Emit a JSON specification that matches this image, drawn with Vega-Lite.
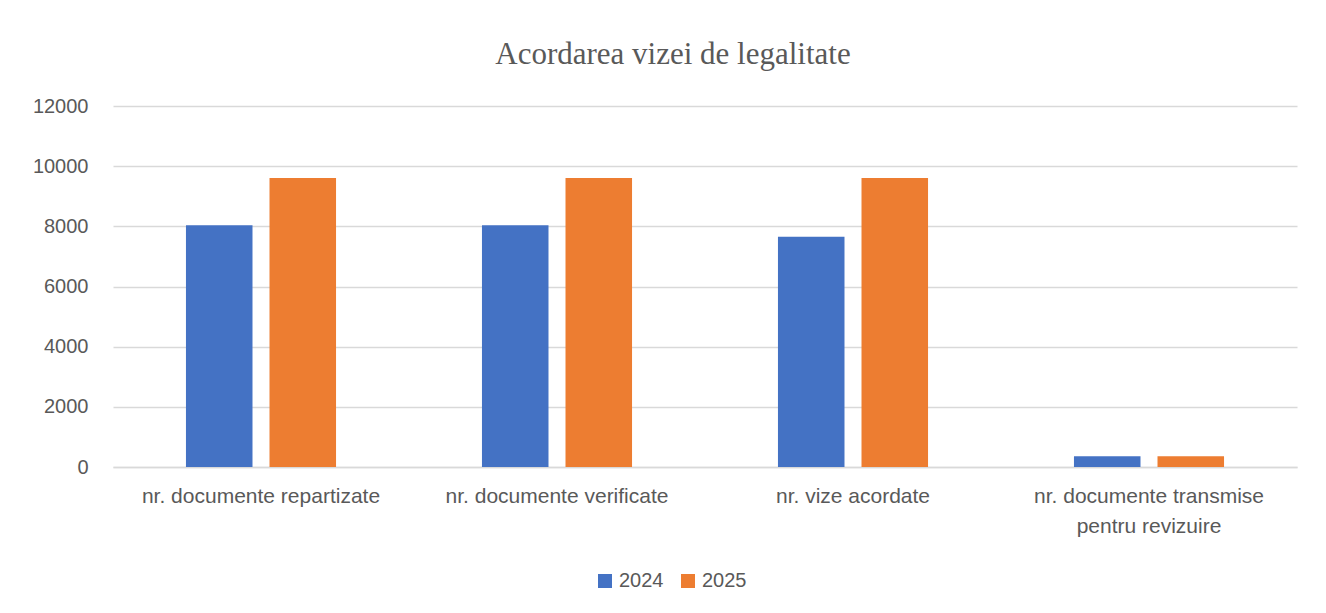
{
  "$schema": "https://vega.github.io/schema/vega-lite/v6.json",
  "autosize": {"type": "none"},
  "width": 1184,
  "height": 361,
  "padding": {"left": 113, "top": 106, "right": 29, "bottom": 146},
  "background": "white",
  "title": {
    "text": "Acordarea vizei de legalitate",
    "font": "Liberation Serif",
    "fontSize": 31,
    "fontWeight": "normal",
    "color": "#595959",
    "anchor": "middle",
    "offset": 25,
    "dx": -32
  },
  "data": {
    "values": [
      {"cat": "nr. documente repartizate", "year": "2024", "value": 8040},
      {"cat": "nr. documente repartizate", "year": "2025", "value": 9610},
      {"cat": "nr. documente verificate", "year": "2024", "value": 8040},
      {"cat": "nr. documente verificate", "year": "2025", "value": 9610},
      {"cat": "nr. vize acordate", "year": "2024", "value": 7657},
      {"cat": "nr. vize acordate", "year": "2025", "value": 9610},
      {"cat": "nr. documente transmise pentru revizuire", "year": "2024", "value": 355},
      {"cat": "nr. documente transmise pentru revizuire", "year": "2025", "value": 355}
    ]
  },
  "mark": {"type": "bar"},
  "encoding": {
    "x": {
      "field": "cat",
      "type": "nominal",
      "sort": null,
      "title": null,
      "scale": {"paddingInner": 0.493, "paddingOuter": 0.2465},
      "axis": {
        "labelAngle": 0,
        "labelFont": "Liberation Sans",
        "labelFontSize": 21,
        "labelColor": "#595959",
        "labelPadding": 18,
        "labelLineHeight": 30,
        "labelExpr": "datum.label == 'nr. documente transmise pentru revizuire' ? ['nr. documente transmise', 'pentru revizuire'] : datum.label",
        "ticks": false,
        "domainColor": "#d9d9d9",
        "domainWidth": 1.5,
        "labelLimit": 400
      }
    },
    "xOffset": {
      "field": "year",
      "type": "nominal",
      "scale": {"paddingInner": 0.2036, "paddingOuter": 0}
    },
    "y": {
      "field": "value",
      "type": "quantitative",
      "title": null,
      "scale": {"domain": [0, 12000]},
      "axis": {
        "values": [0, 2000, 4000, 6000, 8000, 10000, 12000],
        "format": "d",
        "labelFont": "Liberation Sans",
        "labelFontSize": 20,
        "labelColor": "#595959",
        "labelPadding": 25,
        "ticks": false,
        "domain": false,
        "gridColor": "#d9d9d9",
        "gridWidth": 1.5
      }
    },
    "color": {
      "field": "year",
      "type": "nominal",
      "scale": {"domain": ["2024", "2025"], "range": ["#4472c4", "#ed7d31"]},
      "legend": {
        "title": null,
        "orient": "none",
        "direction": "horizontal",
        "legendX": 482,
        "legendY": 465,
        "symbolType": "square",
        "symbolSize": 196,
        "symbolStrokeWidth": 0,
        "labelFont": "Liberation Sans",
        "labelFontSize": 20,
        "labelColor": "#595959",
        "labelOffset": 4,
        "columnPadding": 14
      }
    }
  },
  "config": {"view": {"stroke": null}}
}
